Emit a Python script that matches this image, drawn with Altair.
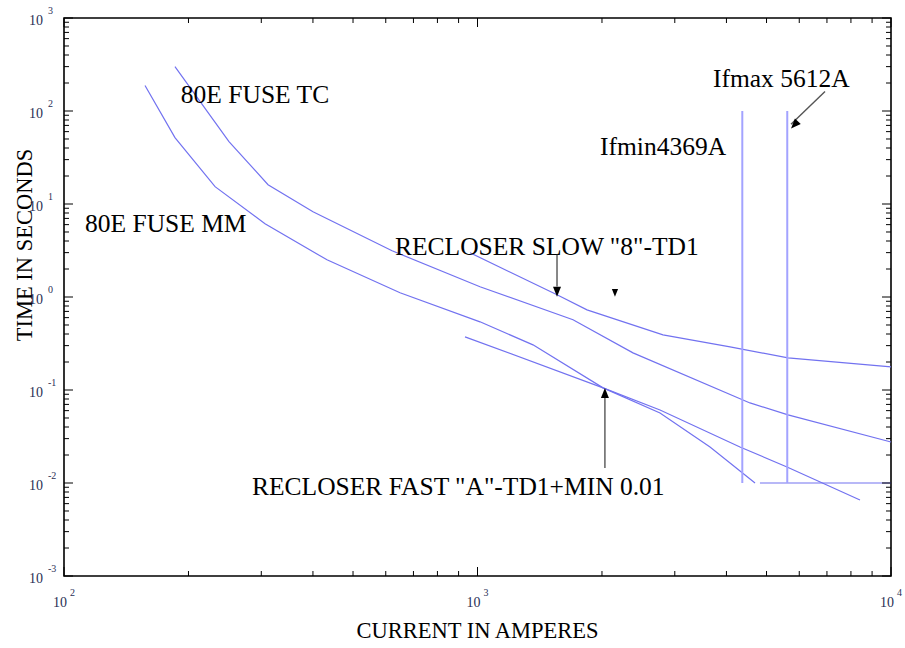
import altair as alt
import pandas as pd

W, H = 827, 558
SERIF = "Liberation Serif"
CURVE = "#7272f0"
VLINE = "#a3a3ff"

# ---- curve data (current in A, time in s) ----
tc_current = [185.5, 250.6, 311.5, 400.1, 621.4, 1014, 1702, 2377, 4560, 5636, 10000]
tc_time = [300.6, 46.9, 16.14, 8.26, 3.14, 1.288, 0.569, 0.2507, 0.0726, 0.0540, 0.0276]

mm_current = [157.0, 185.5, 231.9, 306.3, 432.5, 649.6, 1014, 1362, 2012, 2763, 3650, 4690]
mm_time = [187.7, 51.7, 15.36, 6.14, 2.51, 1.11, 0.541, 0.306, 0.1054, 0.0567, 0.0244, 0.01]

slow_current = [959.2, 1557, 1840, 2809, 4081, 5636, 10000]
slow_time = [2.99, 1.056, 0.728, 0.392, 0.291, 0.2218, 0.1774]

fast_current = [932.8, 2012, 2763, 4313, 5604, 8414]
fast_time = [0.373, 0.1054, 0.0610, 0.0244, 0.01486, 0.00656]

min_current = [4820, 10000]
min_time = [0.01, 0.01]

fault_current = [4369, 5612]
fault_top = [100, 100]
fault_bottom = [0.01, 0.01]

# ---- annotations ----
ann_text = ["80E FUSE TC", "80E FUSE MM", 'RECLOSER SLOW "8"-TD1',
            'RECLOSER FAST "A"-TD1+MIN 0.01', "Ifmin4369A", "Ifmax 5612A"]
ann_current = [191.7, 112.4, 631.6, 284.9, 1978, 3711]
ann_time = [123, 5.03, 2.85, 0.00743, 33.9, 183]

# arrows: start -> tip
arrow_x1 = [1557, 2033, 6925]
arrow_y1 = [2.85, 0.01451, 161.8]
arrow_x2 = [1557, 2033, 5731]
arrow_y2 = [1.3, 0.085, 72]
head_down_x = [1557, 2150]
head_down_y = [1.005, 1.005]
head_down_size = [100, 60]
head_up_x = [2033]
head_up_y = [0.1054]
head_diag_x = [5731]
head_diag_y = [64.7]

# ---- ticks ----
x_major = [100, 1000, 10000]
x_minor = [k * 10 ** e for e in (2, 3) for k in range(2, 10)]
y_major = [10.0 ** e for e in range(-3, 4)]
y_minor = [k * 10.0 ** e for e in range(-3, 3) for k in range(2, 10)]
x_label_val = [100, 1000, 10000]
x_label_exp = ["2", "3", "4"]
y_label_val = [10.0 ** e for e in range(-3, 4)]
y_label_exp = ["-3", "-2", "-1", "0", "1", "2", "3"]

x_title = "CURRENT IN AMPERES"
y_title = "TIME IN SECONDS"

xs = alt.Scale(type="log", domain=[100, 10000], nice=False)
ys = alt.Scale(type="log", domain=[0.001, 1000], nice=False)


def curve_df(name, cur, tim):
    return pd.DataFrame({"series": name, "order": list(range(len(cur))),
                         "current": cur, "time": tim})


curves = pd.concat([
    curve_df("TC", tc_current, tc_time),
    curve_df("MM", mm_current, mm_time),
    curve_df("SLOW", slow_current, slow_time),
    curve_df("FAST", fast_current, fast_time),
    curve_df("MIN", min_current, min_time),
], ignore_index=True)

lines = alt.Chart(curves).mark_line(color=CURVE, strokeWidth=1.2).encode(
    x=alt.X("current:Q", scale=xs, axis=None),
    y=alt.Y("time:Q", scale=ys, axis=None),
    detail="series:N",
    order="order:Q",
)

faults = alt.Chart(pd.DataFrame({"c": fault_current, "t1": fault_top, "t2": fault_bottom})
                   ).mark_rule(color=VLINE, strokeWidth=2).encode(
    x=alt.X("c:Q", scale=xs, axis=None),
    y=alt.Y("t1:Q", scale=ys, axis=None),
    y2="t2:Q",
)


def xticks(vals, length, top):
    df = pd.DataFrame({"v": vals})
    if top:
        yy, yy2 = alt.value(0), alt.value(length)
    else:
        yy, yy2 = alt.value(H), alt.value(H - length)
    return alt.Chart(df).mark_rule(color="black", strokeWidth=1).encode(
        x=alt.X("v:Q", scale=xs, axis=None), y=yy, y2=yy2)


def yticks(vals, length, right):
    df = pd.DataFrame({"v": vals})
    if right:
        xx, xx2 = alt.value(W), alt.value(W - length)
    else:
        xx, xx2 = alt.value(0), alt.value(length)
    return alt.Chart(df).mark_rule(color="black", strokeWidth=1).encode(
        y=alt.Y("v:Q", scale=ys, axis=None), x=xx, x2=xx2)


tick_layers = [
    xticks(x_major, 9, False), xticks(x_minor, 5, False),
    xticks(x_major, 9, True), xticks(x_minor, 5, True),
    yticks(y_major, 9, False), yticks(y_minor, 5, False),
    yticks(y_major, 9, True), yticks(y_minor, 5, True),
]

LBL = "#2a2f55"
xlab = pd.DataFrame({"v": x_label_val, "base": ["10"] * 3, "exp": x_label_exp})
ylab = pd.DataFrame({"v": y_label_val, "base": ["10"] * 7, "exp": y_label_exp})

xlab_base = alt.Chart(xlab).mark_text(align="right", baseline="alphabetic", dx=3,
                                      font=SERIF, fontSize=14, color=LBL).encode(
    x=alt.X("v:Q", scale=xs, axis=None), y=alt.value(H + 31), text="base:N")
xlab_exp = alt.Chart(xlab).mark_text(align="left", baseline="alphabetic", dx=6,
                                     font=SERIF, fontSize=10, color=LBL).encode(
    x=alt.X("v:Q", scale=xs, axis=None), y=alt.value(H + 20), text="exp:N")
ylab_base = alt.Chart(ylab).mark_text(align="right", baseline="alphabetic", dy=7,
                                      font=SERIF, fontSize=14, color=LBL).encode(
    y=alt.Y("v:Q", scale=ys, axis=None), x=alt.value(-21), text="base:N")
ylab_exp = alt.Chart(ylab).mark_text(align="left", baseline="alphabetic", dy=-4,
                                     font=SERIF, fontSize=10, color=LBL).encode(
    y=alt.Y("v:Q", scale=ys, axis=None), x=alt.value(-16), text="exp:N")

titles_x = alt.Chart(pd.DataFrame({"t": [x_title]})).mark_text(
    align="center", baseline="alphabetic", font=SERIF, fontSize=22.5,
    color="black").encode(x=alt.value(W / 2), y=alt.value(H + 62), text="t:N")
titles_y = alt.Chart(pd.DataFrame({"t": [y_title]})).mark_text(
    align="center", baseline="alphabetic", font=SERIF, fontSize=22.5,
    color="black", angle=270).encode(x=alt.value(-32), y=alt.value(227), text="t:N")

ann = alt.Chart(pd.DataFrame({"t": ann_text, "c": ann_current, "s": ann_time})
                ).mark_text(align="left", baseline="alphabetic", font=SERIF,
                            fontSize=25.5, color="black").encode(
    x=alt.X("c:Q", scale=xs, axis=None),
    y=alt.Y("s:Q", scale=ys, axis=None),
    text="t:N",
)

arrows = alt.Chart(pd.DataFrame({"x1": arrow_x1, "y1": arrow_y1,
                                 "x2": arrow_x2, "y2": arrow_y2})
                   ).mark_rule(color="#555555", strokeWidth=1.4).encode(
    x=alt.X("x1:Q", scale=xs, axis=None),
    y=alt.Y("y1:Q", scale=ys, axis=None),
    x2="x2:Q", y2="y2:Q",
)

DOWN = "M0,0L-0.8,-2L0.8,-2Z"
UP = "M0,0L-0.8,2L0.8,2Z"

heads_down = alt.Chart(pd.DataFrame({"x": head_down_x, "y": head_down_y,
                                     "sz": head_down_size})
                       ).mark_point(shape=DOWN, filled=True, color="black",
                                    opacity=1).encode(
    x=alt.X("x:Q", scale=xs, axis=None),
    y=alt.Y("y:Q", scale=ys, axis=None),
    size=alt.Size("sz:Q", scale=None, legend=None),
)
heads_up = alt.Chart(pd.DataFrame({"x": head_up_x, "y": head_up_y})
                     ).mark_point(shape=UP, filled=True, color="black",
                                  opacity=1, size=100).encode(
    x=alt.X("x:Q", scale=xs, axis=None),
    y=alt.Y("y:Q", scale=ys, axis=None),
)
heads_diag = alt.Chart(pd.DataFrame({"x": head_diag_x, "y": head_diag_y})
                       ).mark_point(shape=DOWN, filled=True, color="black",
                                    opacity=1, size=100, angle=43).encode(
    x=alt.X("x:Q", scale=xs, axis=None),
    y=alt.Y("y:Q", scale=ys, axis=None),
)

chart = alt.layer(
    lines, faults, *tick_layers, xlab_base, xlab_exp, ylab_base, ylab_exp,
    titles_x, titles_y, ann, arrows, heads_down, heads_up, heads_diag,
).properties(
    width=W, height=H,
    autosize=alt.AutoSizeParams(type="none"),
    padding={"left": 64, "top": 18, "right": 14, "bottom": 72},
    background="white",
).configure_view(stroke="black", strokeWidth=1.6)

chart.save("out.html", embed_options={"renderer": "svg", "actions": False})
